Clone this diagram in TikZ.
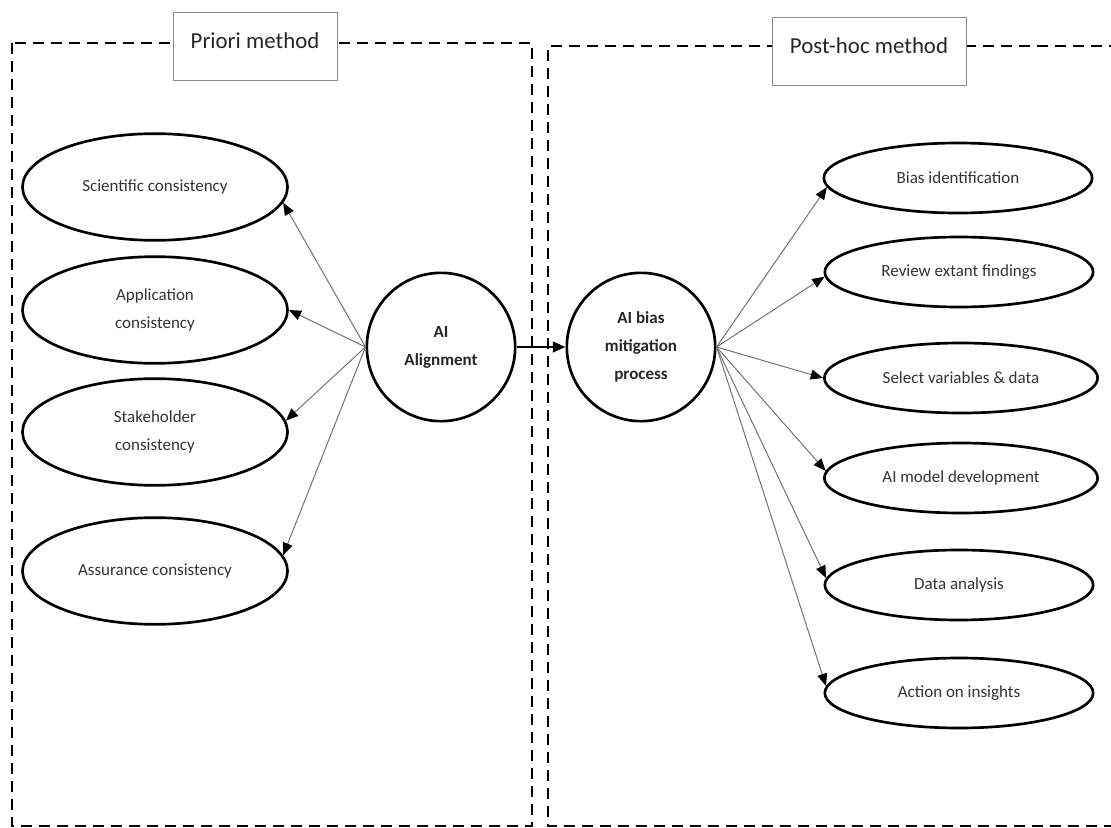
\documentclass[tikz,border=0pt]{standalone}
\usepackage{fontspec}
\setmainfont{Carlito}
\usetikzlibrary{arrows.meta,shapes.geometric}
\tikzset{
  frame/.style={line width=0.7mm, dash pattern=on 3.3mm off 2.1mm},
  titlebox/.style={draw=black!45, fill=white, inner sep=0pt, text height=11mm, text depth=9.5mm, font=\fontsize{19.5}{24}\selectfont, text=black!85},
  oval/.style={ellipse, draw, line width=0.8mm, minimum width=79.5mm, minimum height=32mm, align=center, font=\fontsize{14.5}{24}\selectfont, text=black!80},
  task/.style={ellipse, draw, line width=0.8mm, minimum width=80.5mm, minimum height=21mm, font=\fontsize{14.5}{24}\selectfont, text=black!80},
  hub/.style={circle, draw, line width=0.8mm, minimum size=44.5mm, align=center, font=\fontsize{14.5}{24}\selectfont\bfseries, text=black!85},
  link/.style={draw=black!55, line width=0.3mm, -{Triangle[length=3.7mm,width=3mm,color=black]}},
  pass/.style={line width=0.7mm, -{Triangle[length=3.8mm,width=3.2mm]}}
}
\begin{document}
\begin{tikzpicture}[x=0.3mm,y=-0.3mm]
  \useasboundingbox (0,0) rectangle (1111,828);
  \draw[frame] (12,43) rectangle (532,826);
  \draw[frame] (1120,46) -- (548,46) -- (548,826) -- (1120,826);
  \node[titlebox, minimum width=49.2mm] (priori) at (255,46) {Priori method};
  \node[titlebox, minimum width=58.2mm] (posthoc) at (869,51) {Post-hoc method};
  \node[oval] (sci) at (155,187) {Scientific consistency};
  \node[oval] (app) at (155,310) {Application\\consistency};
  \node[oval] (stk) at (155,432) {Stakeholder\\consistency};
  \node[oval] (asr) at (155,571) {Assurance consistency};
  \node[hub] (align) at (441,347) {AI\\Alignment};
  \node[hub] (bias) at (641,347) {AI bias\\mitigation\\process};
  \node[task] (bid) at (958,178) {Bias identification};
  \node[task] (rev) at (959,272) {Review extant findings};
  \node[task, minimum width=82mm] (sel) at (961,378) {Select variables \& data};
  \node[task, minimum width=82mm] (mdl) at (961,478) {AI model development};
  \node[task] (dat) at (959,585) {Data analysis};
  \node[task] (act) at (959,693) {Action on insights};
  \draw[link] (align.west) -- (sci.-7);
  \draw[link] (align.west) -- (app.east);
  \draw[link] (align.west) -- (stk.5);
  \draw[link] (align.west) -- (asr.7);
  \draw[pass] (align) -- (bias);
  \draw[link] (bias.east) -- (bid.184);
  \draw[link] (bias.east) -- (rev.182);
  \draw[link] (bias.east) -- (sel.west);
  \draw[link] (bias.east) -- (mdl.177);
  \draw[link] (bias.east) -- (dat.177);
  \draw[link] (bias.east) -- (act.177);
\end{tikzpicture}
\end{document}
